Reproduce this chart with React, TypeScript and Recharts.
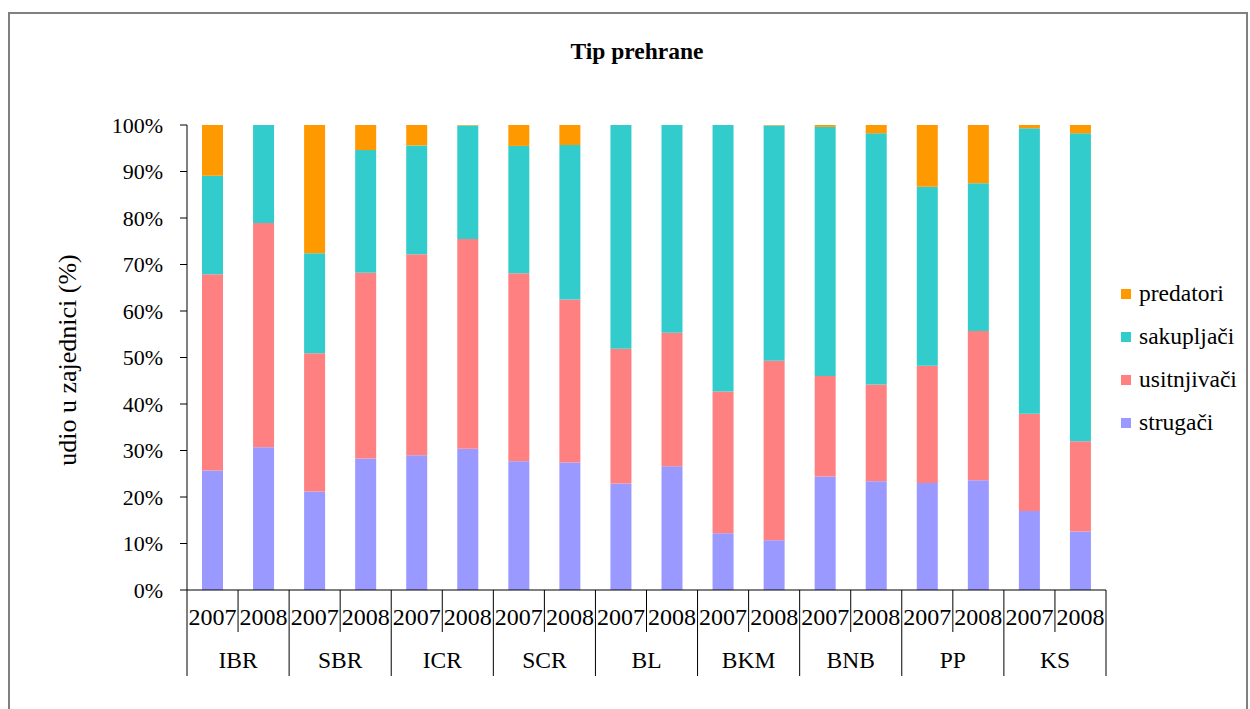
import React from "react";
import { BarChart, Bar, XAxis, YAxis, Legend } from "recharts";

const sites = ["IBR", "SBR", "ICR", "SCR", "BL", "BKM", "BNB", "PP", "KS"];
const years = ["2007", "2008"];

// udio (%) po skupinama, redom IBR 2007, IBR 2008, SBR 2007 ...
const strugaci = [25.7, 30.7, 21.2, 28.3, 29.0, 30.4, 27.7, 27.4, 22.9, 26.6, 12.2, 10.7, 24.4, 23.4, 23.0, 23.6, 17.0, 12.6];
const usitnjivaci = [42.2, 48.2, 29.7, 39.9, 43.2, 45.1, 40.4, 35.1, 29.0, 28.7, 30.5, 38.6, 21.6, 20.8, 25.2, 32.1, 20.9, 19.4];
const sakupljaci = [21.2, 21.1, 21.5, 26.4, 23.4, 24.4, 27.4, 33.2, 48.1, 44.7, 57.3, 50.6, 53.6, 54.0, 38.5, 31.8, 61.4, 66.2];
const predatori = [10.9, 0, 27.6, 5.4, 4.4, 0.1, 4.5, 4.3, 0, 0, 0, 0.1, 0.4, 1.8, 13.3, 12.5, 0.7, 1.8];

const yTicks = [0, 10, 20, 30, 40, 50, 60, 70, 80, 90, 100];

const series = [
  { key: "strugaci", name: "strugači", color: "#9999FF" },
  { key: "usitnjivaci", name: "usitnjivači", color: "#FF8080" },
  { key: "sakupljaci", name: "sakupljači", color: "#33CCCC" },
  { key: "predatori", name: "predatori", color: "#FF9900" },
];

const rows = sites.flatMap((site, i) =>
  years.map((year, j) => {
    const k = i * 2 + j;
    return {
      key: `${site}-${year}`,
      site,
      year,
      strugaci: strugaci[k],
      usitnjivaci: usitnjivaci[k],
      sakupljaci: sakupljaci[k],
      predatori: predatori[k],
    };
  })
);

const FONT = "'Liberation Serif', 'Times New Roman', serif";
const PLOT_LEFT = 187;
const PLOT_RIGHT = 1106;
const BAND = (PLOT_RIGHT - PLOT_LEFT) / rows.length;

function XTick(props: any) {
  const { x, y, index } = props;
  const row = rows[index];
  const left = x - BAND / 2;
  const groupStart = index % 2 === 0;
  return (
    <g>
      <line x1={left} x2={left} y1={y} y2={y + (groupStart ? 86 : 42)} stroke="#000" strokeWidth={1} />
      {index === rows.length - 1 && (
        <line x1={left + BAND} x2={left + BAND} y1={y} y2={y + 86} stroke="#000" strokeWidth={1} />
      )}
      <text x={x} y={y + 35} textAnchor="middle" fontFamily={FONT} fontSize={24} fill="#000">
        {row.year}
      </text>
      {groupStart && (
        <text x={x + BAND / 2} y={y + 78} textAnchor="middle" fontFamily={FONT} fontSize={23.5} fill="#000">
          {row.site}
        </text>
      )}
    </g>
  );
}

function LegendBox() {
  const order = [...series].reverse();
  return (
    <div style={{ fontFamily: FONT, fontSize: 23.5, color: "#000" }}>
      {order.map((s) => (
        <div key={s.key} style={{ display: "flex", alignItems: "center", height: 43 }}>
          <span style={{ width: 10, height: 10, background: s.color, marginRight: 8, display: "inline-block" }} />
          <span>{s.name}</span>
        </div>
      ))}
    </div>
  );
}

export default function App() {
  return (
    <div style={{ position: "absolute", left: 0, top: 0, width: 1250, height: 709, overflow: "hidden", background: "#fff" }}>
      <div
        style={{
          position: "absolute",
          left: 8,
          top: 12,
          width: 1240,
          height: 740,
          border: "2px solid #808080",
          boxSizing: "border-box",
        }}
      />
      <div
        style={{
          position: "absolute",
          left: 0,
          width: 1274,
          top: 40,
          textAlign: "center",
          fontFamily: FONT,
          fontWeight: "bold",
          fontSize: 23.5,
          lineHeight: "22px",
        }}
      >
        Tip prehrane
      </div>
      <div
        style={{
          position: "absolute",
          left: 68,
          top: 360,
          transform: "translate(-50%, -50%) rotate(-90deg)",
          whiteSpace: "nowrap",
          fontFamily: FONT,
          fontSize: 26,
          lineHeight: "26px",
        }}
      >
        udio u zajednici (%)
      </div>
      <div style={{ position: "absolute", left: 0, top: 0 }}>
        <BarChart
          width={1250}
          height={709}
          data={rows}
          margin={{ top: 125, right: 1250 - PLOT_RIGHT, bottom: 19, left: PLOT_LEFT - 80 }}
          barSize={21}
        >
          <XAxis
            dataKey="key"
            interval={0}
            height={100}
            tickLine={false}
            tickSize={0}
            tickMargin={0}
            axisLine={{ stroke: "#000" }}
            tick={<XTick />}
          />
          <YAxis
            type="number"
            width={80}
            domain={[0, 100]}
            ticks={yTicks}
            tickFormatter={(v) => `${v}%`}
            tickSize={7}
            tickMargin={17}
            axisLine={{ stroke: "#000" }}
            tickLine={{ stroke: "#000" }}
            tick={{ fill: "#000", fontSize: 22, fontFamily: FONT }}
          />
          <Legend
            layout="vertical"
            align="center"
            verticalAlign="middle"
            content={() => <LegendBox />}
            wrapperStyle={{ left: 1121, top: 272, width: 128 }}
          />
          {series.map((s) => (
            <Bar
              key={s.key}
              dataKey={s.key}
              name={s.name}
              stackId="a"
              fill={s.color}
              isAnimationActive={false}
            />
          ))}
        </BarChart>
      </div>
    </div>
  );
}
